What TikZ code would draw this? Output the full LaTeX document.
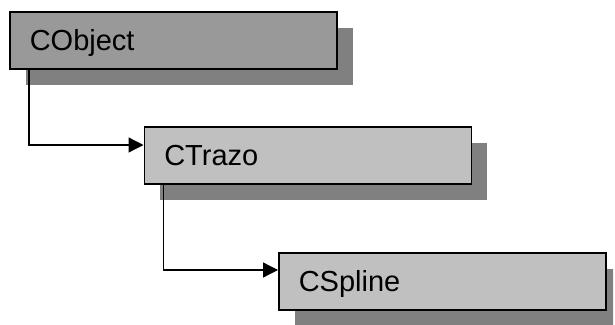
\documentclass[tikz,border=0pt]{standalone}
\usepackage{fontspec}
\setmainfont{Liberation Sans}
\usetikzlibrary{shadows,arrows.meta,calc}
\definecolor{rootfill}{HTML}{999999}
\definecolor{classfill}{HTML}{C0C0C0}
\definecolor{shadowgray}{HTML}{808080}
\tikzset{
  classbox/.style={draw=black, line width=1.6pt, fill=classfill,
    anchor=north west, inner xsep=20pt, inner ysep=0pt,
    text width=287pt, align=left, minimum height=57pt,
    text height=21pt, text depth=0pt,
    font=\fontsize{29}{34}\selectfont,
    drop shadow={shadow xshift=16pt, shadow yshift=-16pt,
      fill=shadowgray, opacity=1, draw=none}},
  inherit/.style={line width=1.3pt, -{Triangle[length=15pt,width=15pt]}}
}
\begin{document}
\begin{tikzpicture}[x=1pt,y=-1pt]
  \useasboundingbox (0,0) rectangle (615,324);
  \begin{scope}
    \clip (0,0) rectangle (613,324);
    \node[classbox, fill=rootfill] (obj) at (9,11) {CObject};
    \node[classbox] (trazo) at (143.5,126) {CTrazo};
    \node[classbox] (spline) at (278,252) {CSpline};
  \end{scope}
  % inheritance connectors
  \draw[inherit] ($(obj.south west)+(20,0)$) |- ($(trazo.north west)+(0,19)$);
  \draw[inherit] ($(trazo.south west)+(20,0)$) |- ($(spline.north west)+(0,18)$);
\end{tikzpicture}
\end{document}
